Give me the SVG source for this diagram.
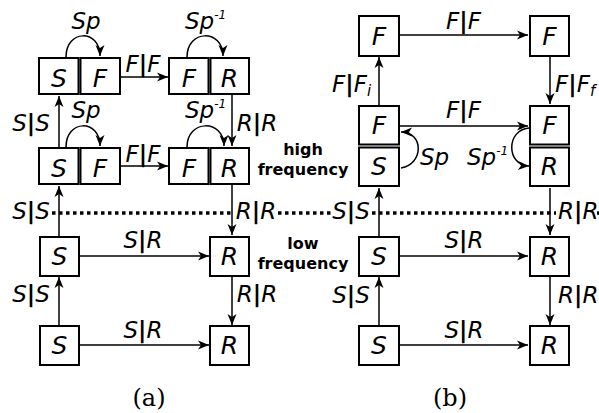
<svg xmlns="http://www.w3.org/2000/svg" width="599" height="413" viewBox="0 0 599 413">
<style>
.box{fill:#fff;stroke:#000;stroke-width:2}
.e{fill:none;stroke:#000;stroke-width:1.5;marker-end:url(#ah)}
.dot{fill:none;stroke:#000;stroke-width:3.5;stroke-dasharray:3.5 3.5}
.lbl{font-family:"DejaVu Sans",sans-serif;font-style:oblique;font-size:23px}
.st{text-anchor:start}
.mid{text-anchor:middle}
.nl{font-family:"DejaVu Sans",sans-serif;font-style:oblique;font-size:25px;text-anchor:middle}
.bar{font-weight:bold;font-style:normal}
.sup{font-size:12px}
.sub{font-size:15px}
.freq{font-family:"DejaVu Sans",sans-serif;font-weight:bold;font-size:16px;text-anchor:middle}
.cap{font-family:"DejaVu Serif",serif;font-size:24px;text-anchor:middle}
</style>
<defs>
<marker id="ah" viewBox="-12 -5 13 10" refX="0" refY="0" markerWidth="13" markerHeight="10" orient="auto" markerUnits="userSpaceOnUse">
<path d="M0,0 L-11,-4.5 L-8,0 L-11,4.5 Z" fill="#000"/>
</marker>
</defs>

<g id="connectors">
<!-- (a) -->
<path class="e" d="M121,77 H168"/>
<path class="e" d="M121,166 H168"/>
<path class="e" d="M59,147 V96"/>
<path class="e" d="M232,95 V146"/>
<path class="e" d="M66,57 C66,29 100,29 100,56"/>
<path class="e" d="M187,57 C187,29 223,29 223,56"/>
<path class="e" d="M66,147 C66,119 100,119 100,146"/>
<path class="e" d="M187,147 C187,119 224,119 224,146"/>
<path class="e" d="M59,236 V186"/>
<path class="e" d="M232,185 V235"/>
<path class="e" d="M80,256 H209"/>
<path class="e" d="M59,325 V277"/>
<path class="e" d="M232,277 V325"/>
<path class="e" d="M80,345 H209"/>
<!-- (b) -->
<path class="e" d="M400,35 H528"/>
<path class="e" d="M379,105 V57"/>
<path class="e" d="M550,57 V104"/>
<path class="e" d="M400,126 H528"/>
<path class="e" d="M401,168 C424,164 424,132 401,132"/>
<path class="e" d="M529,128 C506,130 506,165 529,166"/>
<path class="e" d="M379,236 V188"/>
<path class="e" d="M550,188 V235"/>
<path class="e" d="M400,256 H528"/>
<path class="e" d="M379,325 V277"/>
<path class="e" d="M550,277 V325"/>
<path class="e" d="M400,345 H528"/>
<!-- dotted separator -->
<path class="dot" d="M52,213 H234"/>
<path class="dot" d="M278,213 H331"/>
<path class="dot" d="M372,213 H556"/>
<path class="dot" d="M597,213 H599"/>
</g>

<!-- (a) nodes -->
<g id="a-SF-top">
<rect class="box" x="39" y="58" width="39.5" height="36"/>
<rect class="box" x="80.5" y="58" width="39.5" height="36"/>
<text class="nl" x="59" y="87">S</text>
<text class="nl" x="100" y="87">F</text>
</g>
<g id="a-FR-top">
<rect class="box" x="169" y="58" width="39.5" height="36"/>
<rect class="box" x="210.5" y="58" width="38.5" height="36"/>
<text class="nl" x="189" y="87">F</text>
<text class="nl" x="229.5" y="87">R</text>
</g>
<g id="a-SF-mid">
<rect class="box" x="39" y="148" width="39.5" height="36"/>
<rect class="box" x="80.5" y="148" width="39.5" height="36"/>
<text class="nl" x="59" y="177">S</text>
<text class="nl" x="100" y="177">F</text>
</g>
<g id="a-FR-mid">
<rect class="box" x="169" y="148" width="39.5" height="36"/>
<rect class="box" x="210.5" y="148" width="38.5" height="36"/>
<text class="nl" x="189" y="177">F</text>
<text class="nl" x="229.5" y="177">R</text>
</g>
<g id="a-S-low">
<rect class="box" x="40" y="237" width="39" height="39"/>
<text class="nl" x="59.5" y="265">S</text>
</g>
<g id="a-R-low">
<rect class="box" x="210" y="237" width="39" height="39"/>
<text class="nl" x="229.5" y="265">R</text>
</g>
<g id="a-S-bot">
<rect class="box" x="40" y="326" width="39" height="39"/>
<text class="nl" x="59.5" y="354">S</text>
</g>
<g id="a-R-bot">
<rect class="box" x="210" y="326" width="39" height="39"/>
<text class="nl" x="229.5" y="354">R</text>
</g>

<!-- (b) nodes -->
<g id="b-F-top-left">
<rect class="box" x="359" y="16" width="40" height="40"/>
<text class="nl" x="379" y="45">F</text>
</g>
<g id="b-F-top-right">
<rect class="box" x="530" y="16" width="39" height="40"/>
<text class="nl" x="549.5" y="45">F</text>
</g>
<g id="b-FS-mid">
<rect class="box" x="359" y="106" width="40" height="38.5"/>
<rect class="box" x="359" y="147.5" width="40" height="38.5"/>
<text class="nl" x="379" y="134">F</text>
<text class="nl" x="379" y="175">S</text>
</g>
<g id="b-FR-mid">
<rect class="box" x="530" y="106" width="39" height="38.5"/>
<rect class="box" x="530" y="147.5" width="39" height="38.5"/>
<text class="nl" x="549.5" y="134">F</text>
<text class="nl" x="549.5" y="175">R</text>
</g>
<g id="b-S-low">
<rect class="box" x="359" y="237" width="40" height="39"/>
<text class="nl" x="379" y="265">S</text>
</g>
<g id="b-R-low">
<rect class="box" x="530" y="237" width="39" height="39"/>
<text class="nl" x="549.5" y="265">R</text>
</g>
<g id="b-S-bot">
<rect class="box" x="359" y="326" width="40" height="39"/>
<text class="nl" x="379" y="354">S</text>
</g>
<g id="b-R-bot">
<rect class="box" x="530" y="326" width="39" height="39"/>
<text class="nl" x="549.5" y="354">R</text>
</g>

<g id="labels">
<!-- (a) -->
<text class="lbl mid" x="86" y="29">Sp</text>
<text class="lbl st" x="185" y="29">Sp<tspan class="sup" dy="-10">-1</tspan></text>
<text class="lbl mid" x="143" y="72">F<tspan class="bar">|</tspan>F</text>
<text class="lbl mid" x="86" y="118">Sp</text>
<text class="lbl st" x="185" y="118">Sp<tspan class="sup" dy="-10">-1</tspan></text>
<text class="lbl mid" x="31" y="131">S<tspan class="bar">|</tspan>S</text>
<text class="lbl mid" x="257" y="131">R<tspan class="bar">|</tspan>R</text>
<text class="lbl mid" x="143" y="162">F<tspan class="bar">|</tspan>F</text>
<text class="lbl mid" x="31" y="219">S<tspan class="bar">|</tspan>S</text>
<text class="lbl mid" x="256" y="219">R<tspan class="bar">|</tspan>R</text>
<text class="lbl mid" x="143" y="248">S<tspan class="bar">|</tspan>R</text>
<text class="lbl mid" x="31" y="302">S<tspan class="bar">|</tspan>S</text>
<text class="lbl mid" x="257" y="302">R<tspan class="bar">|</tspan>R</text>
<text class="lbl mid" x="143" y="338">S<tspan class="bar">|</tspan>R</text>
<!-- (b) -->
<text class="lbl mid" x="463.5" y="28.5">F<tspan class="bar">|</tspan>F</text>
<text class="lbl st" x="332" y="92">F<tspan class="bar">|</tspan>F<tspan class="sub" dy="4">i</tspan></text>
<text class="lbl st" x="555" y="92">F<tspan class="bar">|</tspan>F<tspan class="sub" dy="4">f</tspan></text>
<text class="lbl mid" x="463.5" y="118">F<tspan class="bar">|</tspan>F</text>
<text class="lbl st" x="420" y="165">Sp</text>
<text class="lbl st" x="467" y="165">Sp<tspan class="sup" dy="-10">-1</tspan></text>
<text class="lbl mid" x="351" y="219">S<tspan class="bar">|</tspan>S</text>
<text class="lbl st" x="558" y="219">R<tspan class="bar">|</tspan>R</text>
<text class="lbl mid" x="464" y="248">S<tspan class="bar">|</tspan>R</text>
<text class="lbl mid" x="351" y="303">S<tspan class="bar">|</tspan>S</text>
<text class="lbl st" x="558" y="303">R<tspan class="bar">|</tspan>R</text>
<text class="lbl mid" x="464" y="338">S<tspan class="bar">|</tspan>R</text>
<!-- frequency labels -->
<text class="freq" x="303" y="155">high</text>
<text class="freq" x="303" y="175">frequency</text>
<text class="freq" x="303" y="249">low</text>
<text class="freq" x="303" y="269">frequency</text>
<!-- captions -->
<text class="cap" x="149" y="406">(a)</text>
<text class="cap" x="450" y="406">(b)</text>
</g>
</svg>
